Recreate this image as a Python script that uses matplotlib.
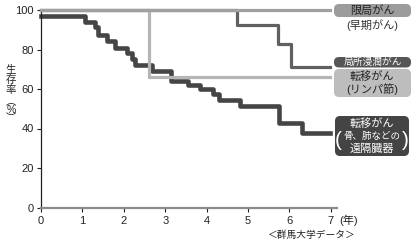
import matplotlib
matplotlib.use("Agg")
import matplotlib.pyplot as plt
from matplotlib.patches import FancyBboxPatch

plt.rcParams['font.family'] = ['Liberation Sans', 'Noto Sans CJK JP', 'DejaVu Sans']

# survival curves (years, % survival)
local_t = [0, 6.98]
local_v = [100, 100]

invasive_t = [0, 4.73, 5.73, 6.05, 6.98]
invasive_v = [100, 92.5, 83, 71, 71]

lymph_t = [0, 2.62, 6.98]
lymph_v = [100, 66, 66]

distant_t = [0, 1.06, 1.30, 1.38, 1.59, 1.79, 2.07, 2.19, 2.27, 2.67, 3.15,
             3.56, 3.84, 4.16, 4.30, 4.81, 5.75, 6.30, 6.98]
distant_v = [97, 94, 91.5, 87.5, 84.5, 81, 78, 75, 72, 69, 64,
             62, 60, 57.5, 54.5, 51.5, 43, 37.5, 37.5]

x_ticks = [0, 1, 2, 3, 4, 5, 6, 7]
y_ticks = [0, 20, 40, 60, 80, 100]

W, H = 411, 242
fig = plt.figure(figsize=(W / 100, H / 100), dpi=100)
ax = fig.add_axes([41 / W, (H - 207.5) / H, (337 - 41) / W, (207.5 - 10) / H])

# draw order: distant at the bottom, localized on top
ax.step(distant_t, distant_v, where='post', color='#454545', lw=3.3, clip_on=False, zorder=2)
ax.step(invasive_t, invasive_v, where='post', color='#606060', lw=2.3, clip_on=False, zorder=3)
ax.step(lymph_t, lymph_v, where='post', color='#b5b5b5', lw=2.3, clip_on=False, zorder=4)
ax.step(local_t, local_v, where='post', color='#a0a0a0', lw=2.3, clip_on=False, zorder=5)

ax.set_xlim(0, 7.15)
ax.set_ylim(0, 100)
ax.set_xticks(x_ticks)
ax.set_yticks(y_ticks)
ax.tick_params(direction='out', length=3, width=0.8, labelsize=8, pad=2, colors='#222222')
ax.tick_params(axis='x', pad=3)
for s in ['top', 'right']:
    ax.spines[s].set_visible(False)
ax.spines['left'].set_color('#222222')
ax.spines['left'].set_linewidth(0.9)
ax.spines['bottom'].set_color('#8a8a8a')
ax.spines['bottom'].set_linewidth(1.6)

# overlay in pixel units for labels
ov = fig.add_axes([0, 0, 1, 1])
ov.set_xlim(0, W)
ov.set_ylim(H, 0)
ov.axis('off')

def box(x0, y0, x1, y1, color):
    ov.add_patch(FancyBboxPatch((x0, y0), x1 - x0, y1 - y0,
                                boxstyle='round,pad=0,rounding_size=5',
                                fc=color, ec='none'))

fs = 8
box(334, 4, 411, 17, '#9c9c9c')
ov.text(372, 10.5, '限局がん', fontsize=fs, color='#222222', ha='center', va='center')
ov.text(372, 25, '(早期がん)', fontsize=fs, color='#333333', ha='center', va='center')

box(334, 57, 411, 67.5, '#565656')
ov.text(372.5, 62, '局所浸潤がん', fontsize=7, color='white', ha='center', va='center')

box(334, 69, 411, 97, '#bdbdbd')
ov.text(372, 76.5, '転移がん', fontsize=fs, color='#222222', ha='center', va='center')
ov.text(372, 89.5, '(リンパ節)', fontsize=fs, color='#222222', ha='center', va='center')

box(335, 116, 409, 156, '#444444')
ov.text(372, 123.5, '転移がん', fontsize=fs, color='white', ha='center', va='center')
ov.text(372, 136, '骨、肺などの', fontsize=6.8, color='white', ha='center', va='center')
ov.text(372, 148.5, '遠隔臓器', fontsize=fs, color='white', ha='center', va='center')
ov.text(338.5, 141, '(', fontsize=15, color='white', ha='center', va='center')
ov.text(405.5, 141, ')', fontsize=15, color='white', ha='center', va='center')

# y label in vertical writing
for ch, yy in zip('生存率', [70, 80, 90]):
    ov.text(11, yy, ch, fontsize=7.5, color='#222222', ha='center', va='center')
ov.text(11, 110, '︵\n%\n︶', fontsize=7.5, color='#222222', ha='center', va='center',
        linespacing=0.75)

ov.text(349, 220, '(年)', fontsize=8, color='#222222', ha='center', va='center')
ov.text(312, 235, '＜群馬大学データ＞', fontsize=7, color='#222222', ha='center', va='center')

fig.savefig('out.png', dpi=100)
